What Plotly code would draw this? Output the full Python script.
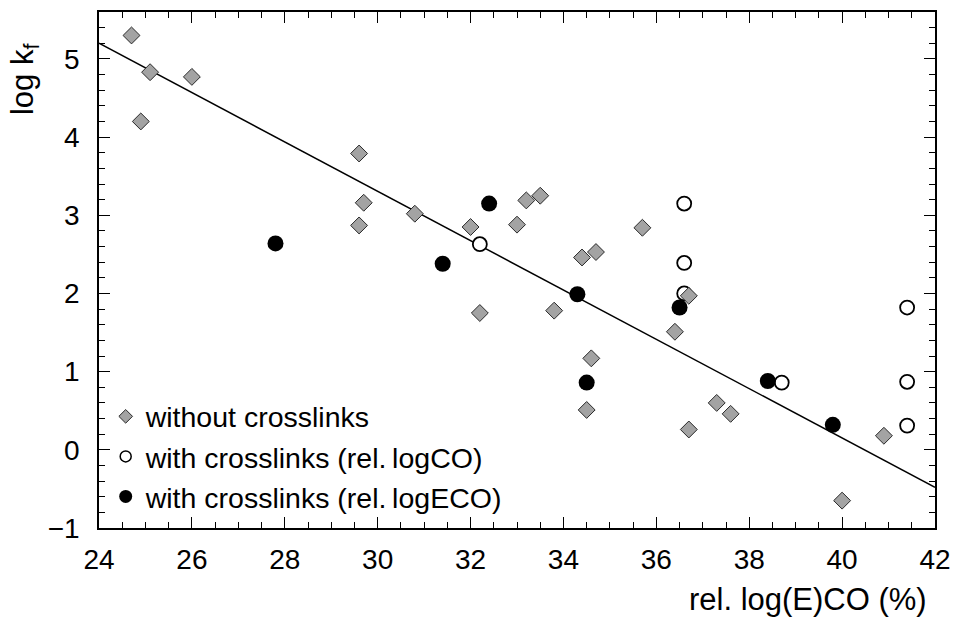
import plotly.graph_objects as go

# --- data ---
nocl_x = [24.7, 25.1, 24.9, 26.0, 29.6, 29.7, 29.6, 30.8, 32.0, 32.2, 33.0, 33.2, 33.5,
          33.8, 34.4, 34.7, 34.6, 34.5, 35.7, 36.4, 36.7, 36.7, 37.3, 37.6, 40.9, 40.0]
nocl_y = [5.30, 4.83, 4.20, 4.77, 3.79, 3.16, 2.87, 3.02, 2.85, 1.75, 2.88, 3.19, 3.25,
          1.78, 2.46, 2.53, 1.17, 0.51, 2.84, 1.51, 1.97, 0.26, 0.60, 0.46, 0.18, -0.65]

co_x = [32.2, 36.6, 36.6, 36.6, 38.7, 41.4, 41.4, 41.4]
co_y = [2.63, 3.15, 2.39, 2.00, 0.86, 1.82, 0.87, 0.31]

eco_x = [27.8, 31.4, 32.4, 34.3, 34.5, 36.5, 38.4, 39.8]
eco_y = [2.64, 2.38, 3.15, 1.99, 0.86, 1.82, 0.88, 0.32]

fit_x = [24, 42]
fit_y = [5.20, -0.48]

names = ["without crosslinks", "with crosslinks (rel.\u2009logCO)", "with crosslinks (rel.\u2009logECO)"]

FONT = "Liberation Sans, Arial, Helvetica, sans-serif"
GRAY = "#a3a3a3"

fig = go.Figure()

fig.add_trace(go.Scatter(x=fit_x, y=fit_y, mode="lines",
                         line=dict(color="black", width=1.5), showlegend=False, hoverinfo="skip"))

fig.add_trace(go.Scatter(x=co_x, y=co_y, mode="markers", showlegend=False,
                         marker=dict(symbol="circle", size=14, color="white",
                                     line=dict(color="black", width=1.8))))
fig.add_trace(go.Scatter(x=nocl_x, y=nocl_y, mode="markers", showlegend=False,
                         marker=dict(symbol="diamond", size=13, color=GRAY,
                                     line=dict(color="#2a2a2a", width=1))))
fig.add_trace(go.Scatter(x=eco_x, y=eco_y, mode="markers", showlegend=False,
                         marker=dict(symbol="circle", size=16, color="black",
                                     line=dict(color="black", width=0))))

# legend-only entries (smaller symbols, as in the reference)
fig.add_trace(go.Scatter(x=[None], y=[None], mode="markers", name=names[0],
                         marker=dict(symbol="diamond", size=10.5, color=GRAY,
                                     line=dict(color="#2a2a2a", width=1))))
fig.add_trace(go.Scatter(x=[None], y=[None], mode="markers", name=names[1],
                         marker=dict(symbol="circle", size=11, color="white",
                                     line=dict(color="black", width=1.5))))
fig.add_trace(go.Scatter(x=[None], y=[None], mode="markers", name=names[2],
                         marker=dict(symbol="circle", size=13, color="black",
                                     line=dict(color="black", width=0))))

axis_common = dict(
    showgrid=False, zeroline=False, showline=True, linecolor="black", linewidth=1.5,
    mirror="allticks", ticks="inside", ticklen=11, tickwidth=1.3, tickcolor="black",
    tickfont=dict(family=FONT, size=28, color="black"),
)

fig.update_xaxes(range=[24, 42], tick0=24, dtick=2,
                 minor=dict(dtick=0.5, ticks="inside", ticklen=6, tickwidth=1.3, tickcolor="black"),
                 ticklabelstandoff=6, **axis_common)
fig.update_yaxes(range=[-1, 5.6], tick0=0, dtick=1,
                 minor=dict(dtick=0.2, ticks="inside", ticklen=6, tickwidth=1.3, tickcolor="black"),
                 ticklabelstandoff=12, **axis_common)

fig.add_annotation(text="rel. log(E)CO (%)", xref="paper", yref="paper",
                   x=0.993, y=-0.1395, xanchor="right", yanchor="middle", showarrow=False,
                   font=dict(family=FONT, size=31, color="black"))
fig.add_annotation(text="log k<sub>f</sub>", xref="paper", yref="paper",
                   x=-0.0885, y=0.87, xanchor="center", yanchor="middle", showarrow=False,
                   textangle=-90, font=dict(family=FONT, size=31, color="black"))

fig.update_layout(
    width=954, height=624,
    margin=dict(l=99, r=19, t=12, b=96, autoexpand=False),
    paper_bgcolor="white", plot_bgcolor="white",
    font=dict(family=FONT, size=28, color="black"),
    showlegend=True,
    legend=dict(x=0.008, y=0.011, xanchor="left", yanchor="bottom",
                bgcolor="rgba(0,0,0,0)", borderwidth=0,
                font=dict(family=FONT, size=28.5, color="black"),
                itemwidth=30),
)

fig.write_html("out.html", config={"displayModeBar": False},
               post_script="document.body.style.margin='0';")
